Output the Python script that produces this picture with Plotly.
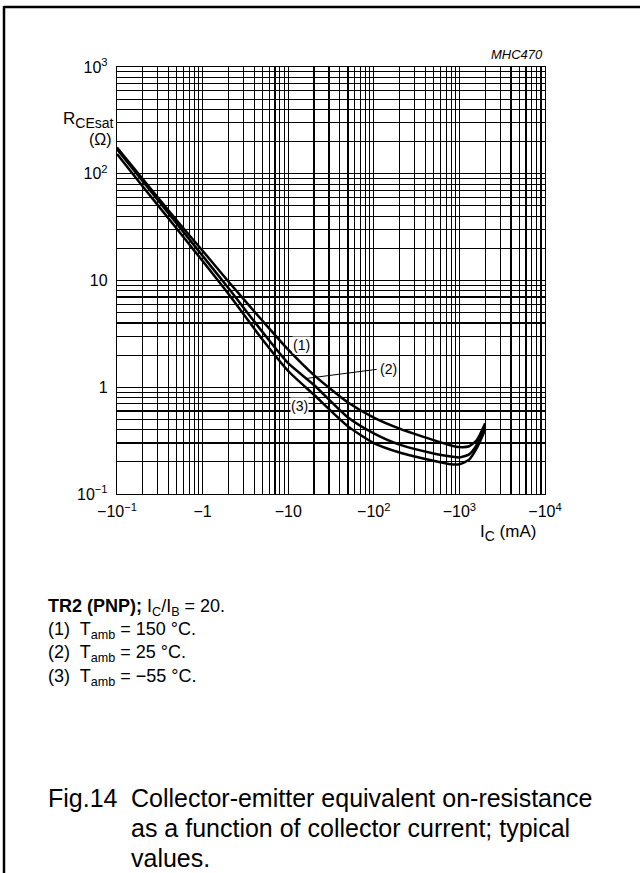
import math
import plotly.graph_objects as go

# ---------------- data (|I_C| in mA, R_CEsat in ohm) ----------------
ic_ma = [0.1, 0.2, 0.5, 1, 2, 5, 10, 20, 50, 100, 200, 500, 800, 1000, 1300, 1600, 2000]
r_150c = [176, 89, 36.5, 19, 9.8, 4.2, 2.25, 1.3, 0.72, 0.52, 0.41, 0.32, 0.285, 0.275, 0.28, 0.32, 0.46]
r_25c = [170, 85, 34, 17, 8.5, 3.3, 1.68, 1.05, 0.52, 0.37, 0.29, 0.24, 0.225, 0.22, 0.235, 0.29, 0.43]
r_m55c = [153, 76, 30.5, 15.2, 7.5, 2.8, 1.42, 0.85, 0.43, 0.30, 0.245, 0.205, 0.19, 0.19, 0.21, 0.27, 0.40]

x_tickvals = [0.1, 1, 10, 100, 1000, 10000]
x_ticktext = ["\u221210<sup>\u22121</sup>", "\u22121", "\u221210", "\u221210<sup>2</sup>",
              "\u221210<sup>3</sup>", "\u221210<sup>4</sup>"]
y_tickvals = [0.1, 1, 10, 100, 1000]
y_ticktext = ["10<sup>\u22121</sup>", "1", "10", "10<sup>2</sup>", "10<sup>3</sup>"]

curve_labels = ["(1)", "(2)", "(3)"]
label_ic = [14.4, 150, 13.7]
label_r = [2.49, 1.47, 0.667]
leader_ic = [108, 16.4]
leader_r = [1.47, 1.21]

legend_lines = [
    "<b>TR2 (PNP);</b> I<sub>C</sub>/I<sub>B</sub> = 20.",
    "(1)  T<sub>amb</sub> = 150 \u00b0C.",
    "(2)  T<sub>amb</sub> = 25 \u00b0C.",
    "(3)  T<sub>amb</sub> = \u221255 \u00b0C.",
]
caption_lines = [
    "Collector-emitter equivalent on-resistance",
    "as a function of collector current; typical",
    "values.",
]

# ---------------- layout geometry ----------------
W, H = 640, 873
L, R, T, B = 117, 545, 67, 494
FONT = "Liberation Sans, Arial, Helvetica, sans-serif"


def px(x):
    return (x - L) / (R - L)


def py(y):
    return (B - y) / (B - T)


def minor_vals(lo, hi):
    vals = []
    for d in range(lo, hi):
        for m in range(2, 10):
            vals.append(m * 10 ** d)
    return vals


fig = go.Figure()
for rv in (r_150c, r_25c, r_m55c):
    fig.add_trace(go.Scatter(x=ic_ma, y=rv, mode="lines",
                             line=dict(color="black", width=2.5, shape="spline", smoothing=0.6),
                             hoverinfo="skip"))
fig.add_trace(go.Scatter(x=leader_ic, y=leader_r, mode="lines",
                         line=dict(color="black", width=1), hoverinfo="skip"))

axis_common = dict(
    type="log", showgrid=True, gridcolor="black", gridwidth=1.2,
    showline=True, linecolor="black", linewidth=1.2, mirror=True,
    ticks="", zeroline=False, tickfont=dict(family=FONT, size=16, color="black"),
)
fig.update_xaxes(range=[-1, 4], tickmode="array", tickvals=x_tickvals, ticktext=x_ticktext,
                 minor=dict(tickvals=minor_vals(-1, 4), showgrid=True, gridcolor="black",
                            gridwidth=1.2, ticks=""),
                 ticklabelstandoff=3, **axis_common)
fig.update_yaxes(range=[-1, 3], tickmode="array", tickvals=y_tickvals, ticktext=y_ticktext,
                 minor=dict(tickvals=minor_vals(-1, 3), showgrid=True, gridcolor="black",
                            gridwidth=1.2, ticks=""),
                 ticklabelstandoff=5, **axis_common)

ann = []
for t, xi, yi in zip(curve_labels, label_ic, label_r):
    ann.append(dict(x=math.log10(xi), y=math.log10(yi), xref="x", yref="y", text=t,
                    showarrow=False, font=dict(family=FONT, size=14, color="black"),
                    bgcolor="white", borderpad=0))

ann.append(dict(x=px(545), y=py(55), xref="paper", yref="paper", text="<i>MHC470</i>",
                xanchor="right", yanchor="middle", showarrow=False,
                font=dict(family=FONT, size=13, color="black")))
ann.append(dict(x=px(116), y=py(120), xref="paper", yref="paper",
                text="R<sub><span style='font-size:14px'>CEsat</span></sub>",
                xanchor="right", yanchor="middle", showarrow=False,
                font=dict(family=FONT, size=17, color="black")))
ann.append(dict(x=px(100), y=py(139), xref="paper", yref="paper", text="(\u03a9)",
                xanchor="center", yanchor="middle", showarrow=False,
                font=dict(family=FONT, size=16, color="black")))
ann.append(dict(x=px(478), y=py(533), xref="paper", yref="paper",
                text="I<sub><span style='font-size:14px'>C</span></sub> (mA)",
                xanchor="left", yanchor="middle", showarrow=False,
                font=dict(family=FONT, size=17, color="black")))

for i, t in enumerate(legend_lines):
    ann.append(dict(x=px(46), y=py(607 + 23.4 * i), xref="paper", yref="paper", text=t,
                    xanchor="left", yanchor="middle", showarrow=False,
                    font=dict(family=FONT, size=18, color="black")))

ann.append(dict(x=px(46), y=py(798), xref="paper", yref="paper", text="Fig.14",
                xanchor="left", yanchor="middle", showarrow=False,
                font=dict(family=FONT, size=25, color="black")))
for i, t in enumerate(caption_lines):
    ann.append(dict(x=px(129), y=py(798 + 30 * i), xref="paper", yref="paper", text=t,
                    xanchor="left", yanchor="middle", showarrow=False,
                    font=dict(family=FONT, size=25, color="black")))

shapes = [
    dict(type="line", xref="paper", yref="paper", x0=px(4), x1=px(660), y0=py(7), y1=py(7),
         line=dict(color="black", width=2.5)),
    dict(type="line", xref="paper", yref="paper", x0=px(4), x1=px(4), y0=py(6), y1=py(880),
         line=dict(color="black", width=2.5)),
]

fig.update_layout(
    width=W, height=H,
    margin=dict(l=L, r=W - R, t=T, b=H - B, pad=0),
    paper_bgcolor="white", plot_bgcolor="white",
    showlegend=False, annotations=ann, shapes=shapes,
    font=dict(family=FONT, color="black"),
)

fig.write_html("out.html", config={"displayModeBar": False, "staticPlot": True},
               post_script="document.body.style.margin='0px';document.body.style.overflow='hidden';")
